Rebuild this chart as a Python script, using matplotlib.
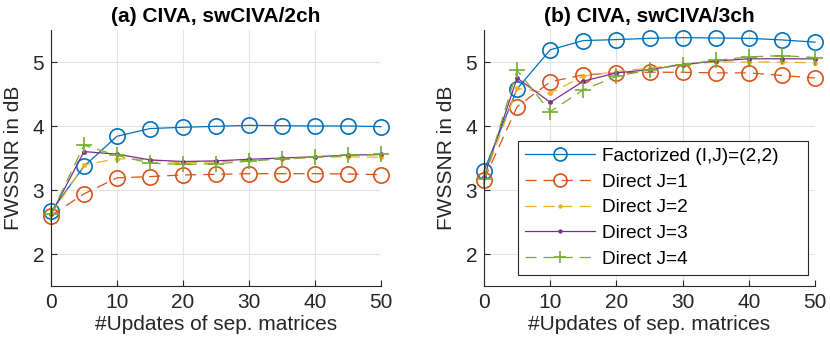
import matplotlib
matplotlib.use("Agg")
import matplotlib.pyplot as plt

plt.rcParams['font.family'] = ['Liberation Sans', 'DejaVu Sans']
plt.rcParams['lines.scale_dashes'] = False

x = [0, 5, 10, 15, 20, 25, 30, 35, 40, 45, 50]

# (a) CIVA, swCIVA/2ch
a_fact = [2.665, 3.37, 3.84, 3.96, 3.98, 3.995, 4.01, 4.005, 4.0, 4.0, 3.99]
a_j1 = [2.60, 2.94, 3.19, 3.21, 3.235, 3.245, 3.255, 3.255, 3.255, 3.25, 3.24]
a_j2 = [2.62, 3.39, 3.49, 3.47, 3.42, 3.44, 3.47, 3.48, 3.51, 3.52, 3.51]
a_j3 = [2.62, 3.60, 3.56, 3.47, 3.445, 3.455, 3.48, 3.50, 3.52, 3.545, 3.555]
a_j4 = [2.62, 3.70, 3.54, 3.42, 3.40, 3.41, 3.45, 3.49, 3.51, 3.54, 3.555]

# (b) CIVA, swCIVA/3ch
b_fact = [3.30, 4.58, 5.19, 5.335, 5.35, 5.37, 5.38, 5.375, 5.37, 5.345, 5.31]
b_j1 = [3.16, 4.30, 4.69, 4.80, 4.83, 4.84, 4.84, 4.83, 4.83, 4.79, 4.75]
b_j2 = [3.18, 4.59, 4.51, 4.78, 4.85, 4.905, 4.96, 5.0, 5.0, 5.0, 4.985]
b_j3 = [3.20, 4.75, 4.37, 4.70, 4.83, 4.88, 4.96, 5.015, 5.05, 5.05, 5.05]
b_j4 = [3.17, 4.87, 4.225, 4.565, 4.775, 4.88, 4.96, 5.025, 5.08, 5.10, 5.07]

titles = ["(a) CIVA, swCIVA/2ch", "(b) CIVA, swCIVA/3ch"]
labels = ["Factorized (I,J)=(2,2)", "Direct J=1", "Direct J=2", "Direct J=3", "Direct J=4"]
xticks = [0, 10, 20, 30, 40, 50]
yticks = [2, 3, 4, 5]

colors = ["#0072BD", "#D95319", "#EDB120", "#7E2F8E", "#77AC30"]
dash = (0, (8, 5))
styles = [
    dict(linestyle='-', marker='o', markersize=11, markerfacecolor='none', markeredgewidth=1.2),
    dict(linestyle=dash, marker='o', markersize=11, markerfacecolor='none', markeredgewidth=1.2),
    dict(linestyle=dash, marker='.', markersize=5),
    dict(linestyle='-', marker='.', markersize=5),
    dict(linestyle=dash, marker='+', markersize=11, markeredgewidth=1.2),
]

fig = plt.figure(figsize=(8.3, 3.46), dpi=100)
axes = [fig.add_axes([51/830, 60/346, 330/830, 256/346]),
        fig.add_axes([484/830, 60/346, 331/830, 256/346])]

axc = '#262626'
fs = 15
for i, (ax, data) in enumerate(zip(axes, [[a_fact, a_j1, a_j2, a_j3, a_j4],
                                          [b_fact, b_j1, b_j2, b_j3, b_j4]])):
    for y, c, st, lab in zip(data, colors, styles, labels):
        ax.plot(x, y, color=c, linewidth=0.9, label=lab, clip_on=False, **st)
    ax.set_xlim(0, 50)
    ax.set_ylim(1.5, 5.5)
    ax.set_xticks(xticks)
    ax.set_yticks(yticks)
    ax.grid(True, color='#e3e3e3', linewidth=0.8)
    ax.set_axisbelow(True)
    for s in ['top', 'right']:
        ax.spines[s].set_visible(False)
    for s in ['left', 'bottom']:
        ax.spines[s].set_color(axc)
        ax.spines[s].set_linewidth(0.8)
    ax.tick_params(direction='in', length=4, width=0.8, colors=axc,
                   labelsize=fs, labelcolor=axc, pad=5)
    ax.set_xlabel("#Updates of sep. matrices", fontsize=fs, color=axc, labelpad=2)
    ax.set_ylabel("FWSSNR in dB", fontsize=fs, color=axc, labelpad=7)
    ax.set_title(titles[i], fontsize=fs, fontweight='bold', color='black', pad=6)

leg = axes[1].legend(loc='upper left', bbox_to_anchor=(0.1027, 0.047, 0.876, 0.519),
                     mode='expand',
                     fontsize=13.7, frameon=True, fancybox=False, framealpha=1,
                     edgecolor='#262626', numpoints=1, handlelength=3.7,
                     markerscale=0.85,
                     borderpad=0.35, labelspacing=0.44, handletextpad=0.37,
                     borderaxespad=0)
leg.get_frame().set_linewidth(0.8)

fig.savefig("out.png", dpi=100)
